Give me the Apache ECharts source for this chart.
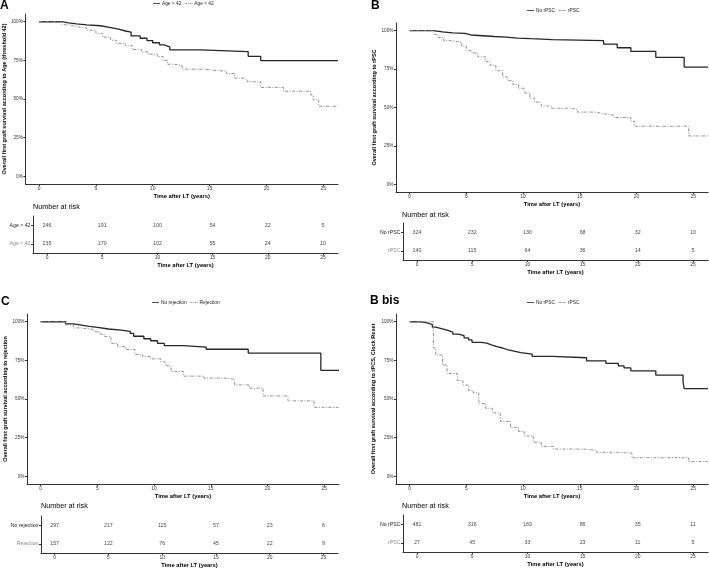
<!DOCTYPE html>
<html>
<head>
<meta charset="utf-8">
<script src="https://cdn.jsdelivr.net/npm/echarts@6/dist/echarts.min.js"></script>
<style>
html, body { margin: 0; padding: 0; background: #fff; }
#chart { width: 709px; height: 570px; }
</style>
</head>
<body>
<div id="chart"></div>
<script>
// ---- data ----
const timeTicks = [0, 5, 10, 15, 20, 25];
const pctTicks = [0, 25, 50, 75, 100];
const riskTimes = [0, 5, 10, 15, 20, 25];

// A : age
const ageOver42 = [[0,100],[2.0,99.3],[2.6,98.6],[3.3,98.0],[4.2,97.4],[5.4,96.3],[6.2,95.2],[7.0,94.0],[7.6,93.3],[8.1,90.8],[8.9,89.3],[9.5,87.8],[10.0,86.4],[10.6,85.0],[11.0,83.8],[11.5,81.8],[14.2,80.6],[18.4,77.6],[19.5,74.8],[26.3,74.8]];
const ageUnder42 = [[0,100],[2.0,98.0],[2.6,96.8],[3.3,95.8],[4.2,94.5],[5.0,92.5],[5.6,90.0],[6.3,88.0],[6.8,86.0],[7.6,84.5],[8.2,82.0],[9.0,80.5],[9.6,79.0],[10.4,77.5],[10.9,75.0],[11.3,72.5],[11.9,71.5],[12.6,69.3],[14.5,68.6],[15.3,68.0],[16.5,66.5],[17.2,63.5],[18.0,62.5],[18.3,61.2],[19.5,57.5],[21.5,55.0],[23.9,52.6],[24.1,49.5],[24.6,45.3],[26.3,45.3]];
const riskAgeOver42 = [246, 191, 100, 54, 22, 5];
const riskAgeUnder42 = [235, 170, 102, 55, 24, 10];

// B : rPSC
const noRpsc = [[0,100],[2.1,99.2],[2.9,98.6],[3.8,98.2],[4.9,97.2],[5.4,96.2],[7.5,95.8],[8.5,95.2],[9.5,94.8],[10.7,94.2],[12.6,93.5],[17.1,91.2],[18.3,88.9],[19.5,86.5],[21.7,82.6],[24.2,76.3],[26.3,76.3]];
const rpsc = [[0,100],[2.2,97.5],[2.5,95.5],[3.0,93.5],[3.8,92.2],[4.6,90.0],[5.0,87.0],[5.5,85.5],[6.0,83.0],[6.7,80.0],[7.1,77.5],[7.6,74.0],[8.2,70.0],[8.6,67.5],[9.1,65.0],[9.6,62.5],[10.1,59.5],[10.6,56.0],[11.0,53.5],[11.6,51.0],[12.5,49.5],[14.2,48.6],[14.8,47.0],[16.3,46.0],[17.1,45.0],[18.0,43.5],[19.5,41.2],[19.8,37.8],[24.6,31.5],[26.3,31.5]];
const riskNoRpsc = [324, 232, 130, 68, 32, 10];
const riskRpsc = [140, 115, 64, 36, 14, 5];

// C : rejection
const noRejection = [[0,100],[2.2,98.6],[2.9,97.8],[3.6,97.0],[4.3,96.3],[5.0,95.3],[6.0,94.5],[7.1,93.8],[7.9,92.4],[8.2,90.6],[9.1,89.0],[9.7,87.7],[10.3,86.0],[10.9,84.6],[12.6,83.6],[14.6,82.2],[18.3,79.7],[24.7,68.5],[26.3,68.5]];
const rejection = [[0,100],[2.2,98.0],[2.9,96.0],[3.5,95.0],[4.7,93.5],[5.2,92.0],[5.6,90.5],[6.2,86.0],[6.8,83.8],[7.5,82.0],[8.3,78.8],[9.0,77.5],[9.7,76.0],[10.6,74.0],[11.0,71.5],[11.5,67.8],[12.6,64.8],[14.4,63.5],[16.2,62.8],[17.1,59.1],[18.4,57.0],[19.6,52.0],[21.8,48.8],[24.1,44.6],[26.3,44.6]];
const riskNoRejection = [297, 217, 115, 57, 23, 6];
const riskRejection = [157, 122, 76, 45, 22, 9];

// B bis : rPSC, clock reset
const noRpscReset = [[0,100],[0.8,99.6],[1.3,99.0],[1.7,98.2],[2.0,96.5],[2.3,95.5],[2.8,94.5],[3.3,93.3],[3.8,92.0],[4.3,91.0],[4.8,89.5],[5.2,88.2],[5.5,86.7],[6.3,86.2],[6.8,85.0],[7.2,83.9],[7.7,83.0],[8.2,82.0],[8.6,81.0],[9.2,80.0],[9.8,79.1],[10.8,77.6],[12.6,76.7],[15.6,74.7],[17.3,73.0],[18.4,71.4],[18.9,70.1],[19.5,68.2],[21.7,65.4],[24.1,61.0],[24.2,56.7],[26.3,56.7]];
const rpscReset = [[0,100],[2.1,83.0],[2.3,78.5],[2.9,72.0],[3.3,66.5],[4.2,62.0],[4.7,59.0],[5.2,55.5],[5.6,54.0],[6.1,47.0],[6.7,44.0],[7.3,41.0],[8.0,35.5],[8.9,31.6],[9.6,29.0],[10.1,26.1],[10.9,22.0],[11.6,19.3],[12.7,17.6],[15.3,16.8],[16.5,15.5],[18.3,15.0],[19.6,12.0],[24.6,9.5],[26.3,9.5]];
const riskNoRpscReset = [481, 316, 169, 86, 35, 11];
const riskRpscReset = [27, 45, 33, 23, 11, 5];

// ---- layout ----
const FONT = '"Liberation Sans", Arial, sans-serif';
const SOLID = '#262626';
const DASH = '#8f8f8f';
const AXIS = '#333333';
const TICKTXT = '#333333';
const ICON_SOLID = 'path://M0,0h12v1.4h-12z';
const ICON_DASH = 'path://M0,0h3v1.4h-3z M4.5,0h1.2v1.4h-1.2z M7.2,0h3v1.4h-3z M11.2,0h0.8v1.4h-0.8z';

const panels = [
  { letter: 'A', letterPos: [0, 0], names: ['Age > 42', 'Age < 42'],
    yTitle: 'Overall first graft survival according to Age (threshold 42)',
    curves: [ageOver42, ageUnder42], risk: [riskAgeOver42, riskAgeUnder42],
    plot: { left: 25, top: 14, width: 313, height: 170 }, yGap: 16, legend: [153, 1],
    table: { left: 33, top: 216, width: 305, height: 37 }, riskTitle: [33, 204] },
  { letter: 'B', letterPos: [371, 0], names: ['No rPSC', 'rPSC'],
    yTitle: 'Overall first graft survival according to rPSC',
    curves: [noRpsc, rpsc], risk: [riskNoRpsc, riskRpsc],
    plot: { left: 396, top: 23, width: 312, height: 169 }, yGap: 19, legend: [527, 8],
    table: { left: 403, top: 223, width: 305, height: 37 }, riskTitle: [402, 212] },
  { letter: 'C', letterPos: [1, 296], names: ['No rejection', 'Rejection'],
    yTitle: 'Overall first graft survival according to rejection',
    curves: [noRejection, rejection], risk: [riskNoRejection, riskRejection],
    plot: { left: 27, top: 314, width: 312, height: 170 }, yGap: 19, legend: [152, 300],
    table: { left: 41, top: 516, width: 297, height: 37 }, riskTitle: [41, 503] },
  { letter: 'B bis', letterPos: [370, 295], names: ['No rPSC', 'rPSC'],
    yTitle: 'Overall first graft survival according to rPCS, Clock Reset',
    curves: [noRpscReset, rpscReset], risk: [riskNoRpscReset, riskRpscReset],
    plot: { left: 396, top: 314, width: 312, height: 170 }, yGap: 20, legend: [527, 300],
    table: { left: 403, top: 515, width: 305, height: 37 }, riskTitle: [402, 503] }
];

const option = {
  animation: false,
  backgroundColor: '#fff',
  textStyle: { fontFamily: FONT },
  title: [], legend: [], grid: [], xAxis: [], yAxis: [], series: []
};

function timeAxis(gridIndex, min, max) {
  return {
    type: 'value', gridIndex: gridIndex, min: min, max: max,
    name: 'Time after LT (years)', nameLocation: 'middle', nameGap: 9,
    nameTextStyle: { fontSize: 5.8, fontWeight: 'bold', color: '#000', fontFamily: FONT },
    axisLine: { show: true, onZero: false, lineStyle: { color: AXIS, width: 1 } },
    axisTick: { show: true, customValues: timeTicks, length: 2, lineStyle: { color: AXIS } },
    axisLabel: { customValues: timeTicks, fontSize: 4.9, color: TICKTXT, margin: 2.5, fontFamily: FONT },
    splitLine: { show: false }
  };
}

panels.forEach((p, i) => {
  const gMain = i * 2;
  const gRisk = i * 2 + 1;

  option.title.push({ text: p.letter, left: p.letterPos[0], top: p.letterPos[1], padding: 0,
    textStyle: { fontSize: 12, fontWeight: 'bold', color: '#000', fontFamily: FONT } });
  option.title.push({ text: 'Number at risk', left: p.riskTitle[0], top: p.riskTitle[1], padding: 0,
    textStyle: { fontSize: 7.2, fontWeight: 'normal', color: '#000', fontFamily: FONT } });

  option.legend.push({
    data: [{ name: p.names[0], icon: ICON_SOLID }, { name: p.names[1], icon: ICON_DASH }],
    left: p.legend[0], top: p.legend[1], padding: 0,
    itemWidth: 7, itemHeight: 1.2, itemGap: 4, selectedMode: false,
    textStyle: { fontSize: 4.8, color: '#222', fontFamily: FONT, padding: [0, 0, 0, -3] }
  });

  option.grid.push(Object.assign({}, p.plot));
  option.grid.push(Object.assign({}, p.table));

  option.xAxis.push(timeAxis(gMain, -1.2, 26.3));
  option.yAxis.push({
    type: 'value', gridIndex: gMain, min: -5, max: 105,
    name: p.yTitle, nameLocation: 'middle', nameGap: p.yGap,
    nameTextStyle: { fontSize: 5.5, fontWeight: 'bold', color: '#000', fontFamily: FONT },
    axisLine: { show: true, onZero: false, lineStyle: { color: AXIS, width: 1 } },
    axisTick: { show: true, customValues: pctTicks, length: 2, lineStyle: { color: AXIS } },
    axisLabel: { customValues: pctTicks, formatter: '{value}%', fontSize: 4.7, color: TICKTXT, margin: 2.5, fontFamily: FONT },
    splitLine: { show: false }
  });

  option.xAxis.push(timeAxis(gRisk, -1.27, 26.36));
  option.yAxis.push({
    type: 'category', gridIndex: gRisk, data: p.names, inverse: true,
    axisLine: { show: true, onZero: false, lineStyle: { color: AXIS, width: 1 } },
    axisTick: { show: true, alignWithLabel: true, length: 2, lineStyle: { color: AXIS } },
    axisLabel: { fontSize: 5.2, margin: 2.5, fontFamily: FONT,
      color: (v) => (v === p.names[0] ? '#1a1a1a' : '#8c8c8c') },
    splitLine: { show: false }
  });

  // survival curves
  option.series.push({
    type: 'line', name: p.names[0], xAxisIndex: gMain, yAxisIndex: gMain,
    data: p.curves[0], step: 'end', symbol: 'none', showSymbol: false,
    lineStyle: { color: SOLID, width: 1.3 }, itemStyle: { color: SOLID }
  });
  option.series.push({
    type: 'line', name: p.names[1], xAxisIndex: gMain, yAxisIndex: gMain,
    data: p.curves[1], step: 'end', symbol: 'none', showSymbol: false,
    lineStyle: { color: DASH, width: 1, type: [3, 1.5, 1, 1.5] }, itemStyle: { color: DASH }
  });

  // number-at-risk table
  [0, 1].forEach((g) => {
    option.series.push({
      type: 'scatter', xAxisIndex: gRisk, yAxisIndex: gRisk, silent: true,
      symbolSize: 1, itemStyle: { color: 'rgba(0,0,0,0)' },
      data: riskTimes.map((t, k) => [t, p.names[g], p.risk[g][k]]),
      label: { show: true, position: 'inside', formatter: (d) => String(d.value[2]),
        fontSize: 5.3, color: '#111', fontFamily: FONT }
    });
  });
});

const chart = echarts.init(document.getElementById('chart'), null, { renderer: 'canvas' });
chart.setOption(option);
</script>
</body>
</html>
